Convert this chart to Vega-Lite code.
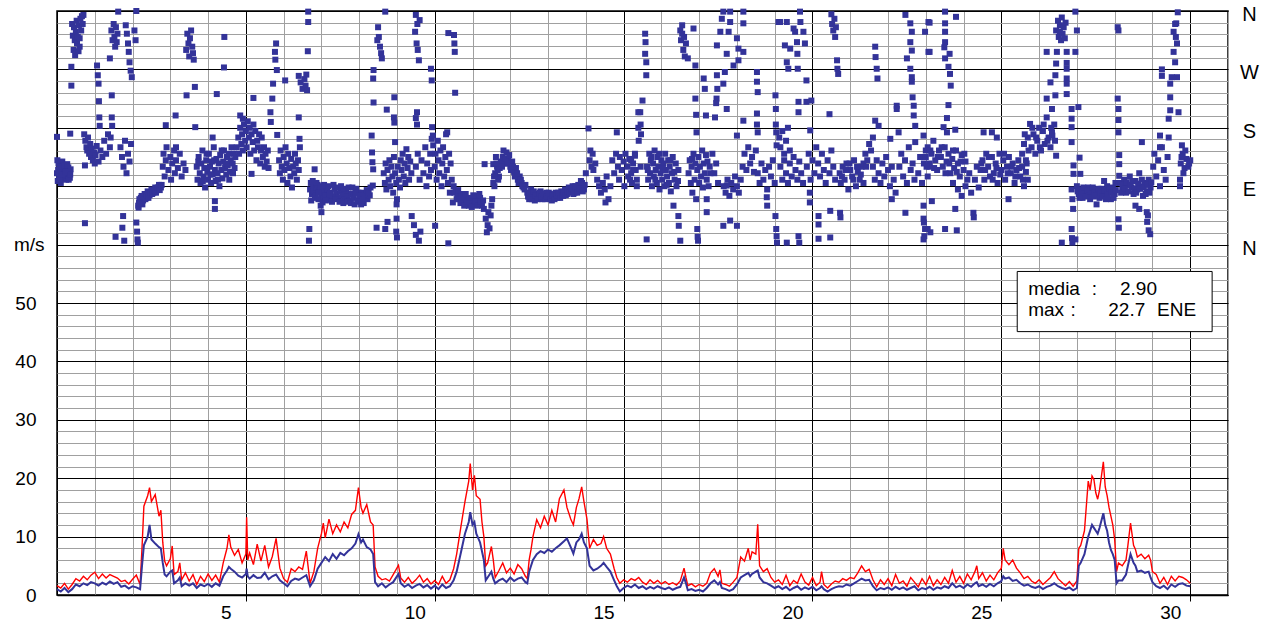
{
"$schema": "https://vega.github.io/schema/vega-lite/v6.json",
"width": 1171, "height": 584,
"autosize": "none",
"padding": {"left": 57, "top": 11, "right": 37, "bottom": 30},
"background": "white",
"config": {"font": "Liberation Sans", "view": {"stroke": "black", "strokeWidth": 1.5}, "axis": {"labelFont": "Liberation Sans", "labelColor": "black", "labelFontSize": 19}},
"datasets": {
"wind": [
{"t":0,"v":1.0,"g":1.6},{"t":0.1,"v":0.6,"g":1.2},{"t":0.2,"v":1.2,"g":2.0},{"t":0.3,"v":0.5,"g":1.0},{"t":0.4,"v":1.0,"g":1.8},{"t":0.5,"v":1.8,"g":2.8},{"t":0.6,"v":1.5,"g":2.4},{"t":0.7,"v":2.0,"g":3.2},{"t":0.8,"v":1.7,"g":2.6},{"t":0.9,"v":2.2,"g":3.4},
{"t":1.0,"v":2.0,"g":3.9},{"t":1.1,"v":1.6,"g":2.8},{"t":1.2,"v":2.1,"g":3.6},{"t":1.3,"v":1.8,"g":2.9},{"t":1.4,"v":2.3,"g":3.5},{"t":1.5,"v":1.9,"g":3.2},{"t":1.6,"v":2.2,"g":2.9},{"t":1.7,"v":1.4,"g":2.3},{"t":1.8,"v":1.6,"g":2.5},{"t":1.9,"v":1.1,"g":1.9},
{"t":2.0,"v":1.5,"g":2.7},{"t":2.1,"v":1.3,"g":3.4},{"t":2.2,"v":1.0,"g":1.8},{"t":2.25,"v":5.0,"g":8.0},{"t":2.3,"v":8.5,"g":15.2},{"t":2.4,"v":10.0,"g":17.0},{"t":2.45,"v":12.0,"g":18.4},{"t":2.5,"v":9.5,"g":16.0},{"t":2.6,"v":8.8,"g":17.2},{"t":2.7,"v":8.2,"g":13.5},{"t":2.75,"v":8.0,"g":14.5},{"t":2.8,"v":5.5,"g":9.0},{"t":2.85,"v":3.5,"g":5.8},{"t":2.9,"v":3.2,"g":5.0},
{"t":3.0,"v":4.0,"g":6.2},{"t":3.05,"v":4.2,"g":8.4},{"t":3.1,"v":2.0,"g":3.5},{"t":3.2,"v":2.5,"g":4.0},{"t":3.25,"v":3.0,"g":5.5},{"t":3.3,"v":1.5,"g":2.6},{"t":3.4,"v":2.0,"g":3.8},{"t":3.5,"v":1.6,"g":2.4},{"t":3.6,"v":2.0,"g":3.5},{"t":3.7,"v":1.2,"g":1.8},{"t":3.8,"v":1.8,"g":3.2},{"t":3.9,"v":1.5,"g":2.3},
{"t":4.0,"v":1.9,"g":3.6},{"t":4.1,"v":1.4,"g":2.5},{"t":4.2,"v":2.0,"g":3.4},{"t":4.3,"v":1.6,"g":2.2},{"t":4.4,"v":3.2,"g":5.5},{"t":4.5,"v":4.2,"g":8.0},{"t":4.55,"v":4.8,"g":10.3},{"t":4.6,"v":4.5,"g":8.2},{"t":4.7,"v":4.0,"g":6.8},{"t":4.8,"v":3.3,"g":7.8},{"t":4.9,"v":3.0,"g":5.5},
{"t":5.0,"v":3.6,"g":7.0},{"t":5.02,"v":4.5,"g":13.3},{"t":5.05,"v":3.2,"g":6.0},{"t":5.1,"v":2.8,"g":7.2},{"t":5.2,"v":3.4,"g":5.2},{"t":5.3,"v":2.9,"g":8.7},{"t":5.4,"v":3.0,"g":5.8},{"t":5.5,"v":3.8,"g":8.5},{"t":5.6,"v":2.7,"g":4.8},{"t":5.7,"v":3.2,"g":6.6},{"t":5.8,"v":3.5,"g":9.7},{"t":5.9,"v":2.5,"g":4.6},
{"t":6.0,"v":2.0,"g":2.8},{"t":6.1,"v":1.5,"g":2.2},{"t":6.2,"v":2.4,"g":4.5},{"t":6.3,"v":2.8,"g":4.0},{"t":6.4,"v":2.6,"g":4.8},{"t":6.5,"v":3.0,"g":4.4},{"t":6.6,"v":3.4,"g":7.5},{"t":6.7,"v":1.5,"g":2.0},{"t":6.8,"v":2.5,"g":4.0},{"t":6.9,"v":4.5,"g":8.0},
{"t":7.0,"v":5.5,"g":10.5},{"t":7.05,"v":6.0,"g":12.3},{"t":7.1,"v":6.5,"g":9.8},{"t":7.2,"v":5.8,"g":13.0},{"t":7.3,"v":7.0,"g":10.5},{"t":7.4,"v":6.2,"g":12.0},{"t":7.5,"v":7.2,"g":10.8},{"t":7.6,"v":6.8,"g":12.5},{"t":7.7,"v":7.5,"g":11.5},{"t":7.8,"v":8.0,"g":13.8},{"t":7.9,"v":8.8,"g":14.5},{"t":7.98,"v":10.4,"g":18.4},
{"t":8.05,"v":9.0,"g":15.0},{"t":8.1,"v":9.5,"g":14.0},{"t":8.2,"v":8.2,"g":15.5},{"t":8.3,"v":7.8,"g":12.5},{"t":8.37,"v":7.0,"g":12.0},{"t":8.42,"v":2.2,"g":4.8},{"t":8.5,"v":1.5,"g":3.2},{"t":8.6,"v":2.0,"g":2.6},{"t":8.7,"v":1.3,"g":2.8},{"t":8.8,"v":1.8,"g":2.4},{"t":8.9,"v":2.2,"g":3.5},
{"t":9.04,"v":3.6,"g":5.1},{"t":9.1,"v":2.0,"g":2.9},{"t":9.2,"v":1.4,"g":2.2},{"t":9.3,"v":1.8,"g":3.0},{"t":9.4,"v":1.2,"g":2.0},{"t":9.5,"v":1.6,"g":2.6},{"t":9.6,"v":1.9,"g":3.4},{"t":9.7,"v":1.3,"g":2.2},{"t":9.8,"v":1.7,"g":2.8},{"t":9.9,"v":1.1,"g":1.9},
{"t":10.0,"v":1.6,"g":2.5},{"t":10.1,"v":1.0,"g":1.8},{"t":10.2,"v":1.8,"g":3.2},{"t":10.3,"v":1.2,"g":2.0},{"t":10.4,"v":1.5,"g":2.6},{"t":10.5,"v":2.5,"g":4.5},{"t":10.58,"v":4.0,"g":7.0},{"t":10.7,"v":7.5,"g":12.0},{"t":10.8,"v":10.5,"g":16.0},{"t":10.9,"v":12.5,"g":19.5},{"t":10.94,"v":14.2,"g":22.5},
{"t":11.0,"v":12.0,"g":18.0},{"t":11.05,"v":12.5,"g":20.5},{"t":11.1,"v":10.5,"g":17.0},{"t":11.2,"v":9.0,"g":16.4},{"t":11.25,"v":7.5,"g":12.5},{"t":11.3,"v":6.0,"g":10.0},{"t":11.35,"v":2.5,"g":5.0},{"t":11.4,"v":3.0,"g":5.5},{"t":11.5,"v":4.0,"g":8.3},{"t":11.55,"v":2.8,"g":6.0},{"t":11.6,"v":2.0,"g":3.0},{"t":11.7,"v":2.5,"g":4.2},{"t":11.8,"v":2.8,"g":5.5},{"t":11.9,"v":2.2,"g":3.8},
{"t":12.0,"v":3.0,"g":4.6},{"t":12.1,"v":2.4,"g":3.6},{"t":12.2,"v":2.8,"g":5.2},{"t":12.3,"v":3.0,"g":4.5},{"t":12.4,"v":2.2,"g":3.2},{"t":12.45,"v":2.0,"g":2.8},{"t":12.5,"v":4.0,"g":6.0},{"t":12.55,"v":5.0,"g":7.8},{"t":12.6,"v":6.0,"g":10.0},{"t":12.7,"v":7.0,"g":12.9},{"t":12.8,"v":7.5,"g":11.5},{"t":12.9,"v":7.2,"g":13.5},
{"t":13.0,"v":7.8,"g":12.0},{"t":13.1,"v":7.4,"g":14.5},{"t":13.2,"v":8.0,"g":12.5},{"t":13.3,"v":8.5,"g":16.5},{"t":13.42,"v":9.2,"g":18.0},{"t":13.5,"v":9.7,"g":15.0},{"t":13.6,"v":8.2,"g":13.0},{"t":13.67,"v":7.1,"g":12.0},{"t":13.75,"v":9.0,"g":15.0},{"t":13.82,"v":9.5,"g":16.5},{"t":13.89,"v":10.5,"g":18.5},{"t":13.95,"v":9.0,"g":16.0},
{"t":14.03,"v":8.0,"g":13.0},{"t":14.1,"v":5.0,"g":8.0},{"t":14.2,"v":4.2,"g":9.5},{"t":14.3,"v":4.5,"g":8.5},{"t":14.4,"v":5.0,"g":8.8},{"t":14.47,"v":5.5,"g":10.0},{"t":14.55,"v":4.8,"g":8.0},{"t":14.65,"v":4.0,"g":7.0},{"t":14.75,"v":2.5,"g":4.5},{"t":14.82,"v":1.5,"g":3.0},{"t":14.9,"v":0.6,"g":2.0},
{"t":15.0,"v":1.2,"g":2.6},{"t":15.1,"v":1.6,"g":2.2},{"t":15.2,"v":1.3,"g":2.8},{"t":15.3,"v":1.8,"g":2.5},{"t":15.4,"v":1.2,"g":3.0},{"t":15.5,"v":1.5,"g":2.2},{"t":15.6,"v":1.0,"g":1.8},{"t":15.7,"v":1.4,"g":2.6},{"t":15.8,"v":1.1,"g":2.0},{"t":15.9,"v":1.5,"g":2.5},
{"t":16.0,"v":1.2,"g":1.9},{"t":16.1,"v":1.0,"g":2.3},{"t":16.2,"v":1.3,"g":1.8},{"t":16.3,"v":0.9,"g":2.1},{"t":16.4,"v":1.2,"g":1.7},{"t":16.5,"v":1.4,"g":2.4},{"t":16.6,"v":3.0,"g":4.6},{"t":16.65,"v":2.0,"g":3.0},{"t":16.7,"v":0.8,"g":1.6},{"t":16.8,"v":1.0,"g":1.9},{"t":16.9,"v":0.7,"g":1.4},
{"t":17.0,"v":0.9,"g":1.8},{"t":17.1,"v":0.6,"g":1.5},{"t":17.2,"v":1.2,"g":2.0},{"t":17.3,"v":2.0,"g":3.8},{"t":17.4,"v":2.5,"g":4.5},{"t":17.5,"v":1.8,"g":3.2},{"t":17.55,"v":2.2,"g":4.3},{"t":17.6,"v":1.2,"g":2.0},{"t":17.7,"v":1.0,"g":1.8},{"t":17.8,"v":0.7,"g":1.5},{"t":17.9,"v":1.0,"g":2.2},
{"t":18.0,"v":1.8,"g":3.0},{"t":18.1,"v":3.0,"g":6.5},{"t":18.2,"v":3.4,"g":5.8},{"t":18.3,"v":3.8,"g":8.0},{"t":18.35,"v":3.2,"g":6.0},{"t":18.4,"v":3.6,"g":7.4},{"t":18.5,"v":4.0,"g":7.0},{"t":18.55,"v":4.2,"g":12.1},{"t":18.6,"v":3.0,"g":5.0},{"t":18.7,"v":2.2,"g":4.0},{"t":18.8,"v":2.0,"g":4.5},{"t":18.9,"v":1.6,"g":3.0},
{"t":19.0,"v":1.2,"g":2.2},{"t":19.1,"v":1.5,"g":2.6},{"t":19.2,"v":1.0,"g":1.8},{"t":19.3,"v":1.4,"g":3.4},{"t":19.4,"v":0.8,"g":1.6},{"t":19.5,"v":1.2,"g":2.5},{"t":19.6,"v":1.5,"g":2.0},{"t":19.7,"v":0.9,"g":3.6},{"t":19.8,"v":1.3,"g":2.2},{"t":19.9,"v":1.0,"g":1.7},
{"t":20.0,"v":1.4,"g":3.0},{"t":20.1,"v":0.8,"g":1.6},{"t":20.2,"v":1.2,"g":2.2},{"t":20.24,"v":1.5,"g":4.0},{"t":20.3,"v":1.0,"g":1.8},{"t":20.4,"v":0.6,"g":1.2},{"t":20.5,"v":1.0,"g":1.9},{"t":20.6,"v":1.3,"g":2.4},{"t":20.7,"v":1.5,"g":2.2},{"t":20.8,"v":1.4,"g":2.8},{"t":20.9,"v":1.8,"g":2.5},
{"t":21.0,"v":1.6,"g":3.0},{"t":21.1,"v":2.0,"g":2.8},{"t":21.2,"v":2.4,"g":3.8},{"t":21.3,"v":2.8,"g":5.0},{"t":21.4,"v":2.5,"g":4.0},{"t":21.5,"v":2.6,"g":4.4},{"t":21.6,"v":1.5,"g":2.6},{"t":21.7,"v":0.8,"g":1.4},{"t":21.8,"v":1.2,"g":2.6},{"t":21.9,"v":1.0,"g":1.8},
{"t":22.0,"v":1.3,"g":2.8},{"t":22.1,"v":0.9,"g":1.6},{"t":22.2,"v":1.4,"g":3.5},{"t":22.3,"v":1.0,"g":2.0},{"t":22.4,"v":1.3,"g":2.4},{"t":22.5,"v":0.9,"g":1.5},{"t":22.6,"v":1.2,"g":3.0},{"t":22.7,"v":1.5,"g":2.2},{"t":22.8,"v":0.8,"g":1.4},{"t":22.9,"v":1.2,"g":2.8},
{"t":23.0,"v":1.0,"g":1.8},{"t":23.1,"v":1.4,"g":3.2},{"t":23.2,"v":0.9,"g":1.6},{"t":23.3,"v":1.3,"g":2.6},{"t":23.4,"v":1.1,"g":1.8},{"t":23.5,"v":1.5,"g":3.0},{"t":23.6,"v":1.2,"g":2.0},{"t":23.7,"v":2.0,"g":4.2},{"t":23.8,"v":1.3,"g":2.2},{"t":23.9,"v":1.6,"g":3.2},
{"t":24.0,"v":1.2,"g":2.0},{"t":24.1,"v":1.8,"g":3.6},{"t":24.2,"v":1.4,"g":2.6},{"t":24.3,"v":2.0,"g":4.0},{"t":24.35,"v":2.2,"g":5.0},{"t":24.4,"v":1.5,"g":2.8},{"t":24.5,"v":1.8,"g":3.8},{"t":24.6,"v":1.4,"g":2.4},{"t":24.7,"v":1.9,"g":3.4},{"t":24.8,"v":1.5,"g":2.6},{"t":24.9,"v":2.0,"g":3.8},
{"t":25.0,"v":2.4,"g":4.6},{"t":25.05,"v":3.2,"g":8.0},{"t":25.1,"v":2.8,"g":6.0},{"t":25.2,"v":3.0,"g":5.2},{"t":25.3,"v":2.4,"g":6.0},{"t":25.4,"v":2.6,"g":4.6},{"t":25.5,"v":2.0,"g":3.8},{"t":25.6,"v":1.6,"g":2.8},{"t":25.7,"v":1.8,"g":3.2},{"t":25.8,"v":1.4,"g":2.4},{"t":25.9,"v":1.2,"g":2.0},
{"t":26.0,"v":1.5,"g":2.6},{"t":26.1,"v":1.0,"g":1.8},{"t":26.2,"v":1.4,"g":2.4},{"t":26.3,"v":1.6,"g":3.0},{"t":26.4,"v":2.0,"g":4.0},{"t":26.5,"v":1.5,"g":2.8},{"t":26.6,"v":1.2,"g":2.2},{"t":26.7,"v":1.0,"g":1.6},{"t":26.8,"v":1.3,"g":2.3},{"t":26.9,"v":0.8,"g":1.5},
{"t":27.0,"v":1.2,"g":2.4},{"t":27.05,"v":5.0,"g":8.0},{"t":27.1,"v":5.5,"g":8.5},{"t":27.2,"v":7.0,"g":11.0},{"t":27.3,"v":10.0,"g":19.5},{"t":27.35,"v":11.0,"g":18.0},{"t":27.4,"v":12.0,"g":20.4},{"t":27.45,"v":11.5,"g":19.8},{"t":27.5,"v":11.0,"g":17.5},{"t":27.55,"v":10.5,"g":16.4},{"t":27.6,"v":11.5,"g":18.0},{"t":27.7,"v":14.0,"g":22.8},{"t":27.75,"v":12.0,"g":18.5},{"t":27.8,"v":11.0,"g":17.0},{"t":27.85,"v":9.0,"g":15.0},{"t":27.9,"v":7.7,"g":13.5},{"t":27.95,"v":7.0,"g":12.0},
{"t":28.0,"v":6.0,"g":9.5},{"t":28.05,"v":2.0,"g":4.0},{"t":28.1,"v":2.5,"g":5.5},{"t":28.2,"v":2.5,"g":5.0},{"t":28.3,"v":3.5,"g":6.0},{"t":28.35,"v":5.0,"g":8.5},{"t":28.42,"v":7.0,"g":12.3},{"t":28.5,"v":5.5,"g":8.5},{"t":28.55,"v":5.0,"g":7.8},{"t":28.6,"v":4.0,"g":6.5},{"t":28.7,"v":4.2,"g":7.0},{"t":28.8,"v":3.8,"g":6.2},{"t":28.9,"v":4.0,"g":6.8},{"t":28.95,"v":3.0,"g":6.0},
{"t":29.0,"v":2.2,"g":4.0},{"t":29.1,"v":1.5,"g":3.5},{"t":29.2,"v":1.2,"g":2.0},{"t":29.3,"v":1.6,"g":3.0},{"t":29.4,"v":1.0,"g":1.8},{"t":29.5,"v":1.8,"g":3.2},{"t":29.6,"v":1.4,"g":2.4},{"t":29.7,"v":1.9,"g":3.2},{"t":29.8,"v":2.0,"g":3.0},{"t":29.9,"v":1.6,"g":2.6},{"t":30.0,"v":1.5,"g":2.0}
],
"dir": [
{"t":0.0,"d":110},{"t":0.02,"d":98},{"t":0.04,"d":125},{"t":0.06,"d":104},{"t":0.08,"d":118},{"t":0.1,"d":95},{"t":0.12,"d":112},{"t":0.14,"d":128},{"t":0.16,"d":102},{"t":0.18,"d":115},{"t":0.2,"d":108},{"t":0.22,"d":120},{"t":0.24,"d":100},{"t":0.26,"d":114},{"t":0.28,"d":106},{"t":0.3,"d":119},{"t":0.32,"d":110},{"t":0.34,"d":103},{"t":0.36,"d":116},{"t":0.0,"d":166},{"t":0.35,"d":171},{"t":0.01,"d":130},
{"t":0.03,"d":115},{"t":0.07,"d":100},{"t":0.11,"d":120},{"t":0.15,"d":108},{"t":0.19,"d":122},{"t":0.23,"d":112},{"t":0.27,"d":124},{"t":0.31,"d":100},{"t":0.35,"d":108},
{"t":0.38,"d":274},{"t":0.38,"d":245},{"t":0.4,"d":340},{"t":0.42,"d":322},{"t":0.44,"d":300},{"t":0.45,"d":335},{"t":0.47,"d":315},{"t":0.48,"d":292},{"t":0.5,"d":328},{"t":0.52,"d":345},{"t":0.53,"d":310},{"t":0.55,"d":320},{"t":0.57,"d":298},{"t":0.58,"d":338},{"t":0.6,"d":318},{"t":0.62,"d":348},{"t":0.64,"d":330},{"t":0.66,"d":352},{"t":0.68,"d":340},{"t":0.7,"d":354},{"t":0.6,"d":305},
{"t":0.72,"d":170},{"t":0.75,"d":160},{"t":0.78,"d":150},{"t":0.8,"d":145},{"t":0.82,"d":165},{"t":0.85,"d":140},{"t":0.88,"d":155},{"t":0.9,"d":135},{"t":0.92,"d":148},{"t":0.95,"d":130},{"t":0.98,"d":142},{"t":1.0,"d":125},{"t":1.02,"d":138},{"t":1.05,"d":152},{"t":1.1,"d":128},{"t":1.15,"d":145},{"t":1.2,"d":135},{"t":1.25,"d":160},{"t":1.3,"d":140},{"t":1.35,"d":170},{"t":1.4,"d":150},{"t":1.42,"d":165},{"t":0.74,"d":33},{"t":0.74,"d":122},
{"t":1.06,"d":276},{"t":1.08,"d":261},{"t":1.1,"d":248},{"t":1.11,"d":221},{"t":1.12,"d":196},{"t":1.13,"d":183},
{"t":1.4,"d":287},{"t":1.44,"d":330},{"t":1.47,"d":315},{"t":1.5,"d":340},{"t":1.52,"d":320},{"t":1.54,"d":305},{"t":1.56,"d":335},{"t":1.58,"d":312},{"t":1.6,"d":325},{"t":1.62,"d":359},{"t":1.45,"d":230},{"t":1.45,"d":196},{"t":1.46,"d":183},
{"t":1.68,"d":150},{"t":1.72,"d":135},{"t":1.76,"d":120},{"t":1.8,"d":160},{"t":1.84,"d":110},{"t":1.88,"d":140},{"t":1.92,"d":128},{"t":1.96,"d":155},{"t":1.75,"d":44},{"t":1.73,"d":26},{"t":1.55,"d":12},{"t":1.78,"d":6},
{"t":1.82,"d":338},{"t":1.85,"d":325},{"t":1.88,"d":310},{"t":1.9,"d":297},{"t":1.92,"d":281},{"t":1.95,"d":268},{"t":1.98,"d":258},{"t":2.1,"d":360},{"t":2.05,"d":330},{"t":2.08,"d":315},
{"t":2.1,"d":34},{"t":2.12,"d":20},{"t":2.13,"d":8},{"t":2.14,"d":3},
{"t":2.15,"d":60},{"t":2.18,"d":70},{"t":2.2,"d":65},{"t":2.24,"d":75},{"t":2.28,"d":68},{"t":2.32,"d":78},{"t":2.36,"d":72},{"t":2.4,"d":82},{"t":2.45,"d":76},{"t":2.5,"d":85},{"t":2.55,"d":80},{"t":2.6,"d":88},{"t":2.65,"d":84},{"t":2.7,"d":92},{"t":2.75,"d":88},{"t":2.16,"d":57},
{"t":2.17,"d":64},{"t":2.22,"d":72},{"t":2.26,"d":62},{"t":2.3,"d":74},{"t":2.34,"d":70},{"t":2.38,"d":76},{"t":2.42,"d":72},{"t":2.47,"d":80},{"t":2.52,"d":78},{"t":2.57,"d":84},{"t":2.62,"d":80},{"t":2.67,"d":88},{"t":2.72,"d":84},{"t":2.77,"d":92},
{"t":2.8,"d":120},{"t":2.82,"d":140},{"t":2.85,"d":105},{"t":2.88,"d":130},{"t":2.9,"d":150},{"t":2.95,"d":115},{"t":3.0,"d":135},{"t":3.02,"d":100},{"t":3.05,"d":125},{"t":3.1,"d":145},{"t":3.12,"d":110},{"t":3.15,"d":130},{"t":3.2,"d":118},{"t":3.25,"d":140},{"t":3.3,"d":105},{"t":3.35,"d":125},{"t":3.4,"d":115},{"t":2.88,"d":184},{"t":3.14,"d":199},{"t":3.15,"d":150},
{"t":3.42,"d":300},{"t":3.45,"d":325},{"t":3.48,"d":310},{"t":3.5,"d":290},{"t":3.52,"d":318},{"t":3.55,"d":330},{"t":3.58,"d":305},{"t":3.6,"d":295},{"t":3.62,"d":285},{"t":3.43,"d":230},{"t":3.65,"d":243},{"t":3.66,"d":181},
{"t":3.7,"d":120},{"t":3.72,"d":100},{"t":3.75,"d":135},{"t":3.78,"d":110},{"t":3.8,"d":95},{"t":3.82,"d":125},{"t":3.85,"d":145},{"t":3.88,"d":105},{"t":3.9,"d":118},{"t":3.92,"d":88},{"t":3.95,"d":130},{"t":3.98,"d":112},{"t":4.0,"d":100},{"t":4.02,"d":140},{"t":4.05,"d":120},{"t":4.08,"d":95},{"t":4.1,"d":128},{"t":4.12,"d":108},{"t":4.15,"d":150},{"t":4.18,"d":115},{"t":4.2,"d":98},{"t":4.22,"d":132},{"t":4.25,"d":110},{"t":4.28,"d":125},{"t":4.3,"d":90},{"t":4.32,"d":138},{"t":4.35,"d":115},{"t":4.38,"d":102},{"t":4.4,"d":128},{"t":4.42,"d":145},{"t":4.45,"d":118},{"t":4.48,"d":108},{"t":4.5,"d":135},{"t":4.52,"d":122},{"t":4.55,"d":140},{"t":4.58,"d":112},{"t":4.6,"d":130},{"t":4.62,"d":150},{"t":4.65,"d":125},{"t":4.68,"d":140},{"t":4.7,"d":118},{"t":4.72,"d":135},
{"t":3.74,"d":128},{"t":3.86,"d":98},{"t":3.96,"d":140},{"t":4.06,"d":108},{"t":4.16,"d":130},{"t":4.26,"d":100},{"t":4.36,"d":145},{"t":4.46,"d":125},{"t":4.56,"d":100},{"t":4.66,"d":110},
{"t":4.18,"d":67},{"t":4.18,"d":55},{"t":4.12,"d":165},{"t":4.23,"d":232},{"t":4.43,"d":320},{"t":4.42,"d":273},
{"t":4.76,"d":150},{"t":4.8,"d":165},{"t":4.82,"d":140},{"t":4.85,"d":180},{"t":4.88,"d":155},{"t":4.9,"d":170},{"t":4.92,"d":145},{"t":4.95,"d":185},{"t":4.98,"d":160},{"t":5.0,"d":175},{"t":5.02,"d":150},{"t":5.05,"d":190},{"t":5.08,"d":165},{"t":5.1,"d":180},{"t":5.12,"d":140},{"t":5.15,"d":170},{"t":5.18,"d":158},{"t":5.2,"d":185},{"t":5.22,"d":145},{"t":5.25,"d":175},{"t":5.28,"d":130},{"t":5.3,"d":160},{"t":5.32,"d":150},{"t":5.35,"d":170},{"t":5.38,"d":125},{"t":5.4,"d":145},{"t":5.42,"d":165},{"t":5.45,"d":135},{"t":5.48,"d":150},{"t":5.5,"d":120},{"t":5.52,"d":140},{"t":5.55,"d":128},{"t":5.58,"d":145},{"t":5.6,"d":118},{"t":4.85,"d":199},{"t":4.92,"d":194},{"t":5.2,"d":226},{"t":5.15,"d":109},
{"t":5.77,"d":297},{"t":5.82,"d":269},{"t":5.72,"d":248},{"t":5.7,"d":225},{"t":5.65,"d":204},{"t":5.66,"d":189},{"t":5.83,"d":169},{"t":5.78,"d":285},{"t":5.8,"d":310},{"t":6.04,"d":253},
{"t":5.88,"d":130},{"t":5.9,"d":110},{"t":5.92,"d":145},{"t":5.95,"d":120},{"t":5.98,"d":100},{"t":6.0,"d":135},{"t":6.02,"d":115},{"t":6.05,"d":150},{"t":6.08,"d":125},{"t":6.1,"d":95},{"t":6.12,"d":140},{"t":6.15,"d":118},{"t":6.18,"d":105},{"t":6.2,"d":132},{"t":6.22,"d":88},{"t":6.25,"d":120},{"t":6.28,"d":110},{"t":6.3,"d":140},{"t":6.32,"d":125},{"t":6.35,"d":100},{"t":6.38,"d":130},{"t":6.4,"d":115},{"t":6.43,"d":150},{"t":6.42,"d":163},
{"t":6.4,"d":260},{"t":6.45,"d":250},{"t":6.5,"d":240},{"t":6.55,"d":255},{"t":6.58,"d":245},{"t":6.6,"d":262},{"t":6.62,"d":238},{"t":6.4,"d":196},{"t":6.65,"d":359},{"t":6.65,"d":343},{"t":6.64,"d":298},{"t":6.68,"d":24},{"t":6.67,"d":6},
{"t":6.7,"d":85},{"t":6.72,"d":95},{"t":6.75,"d":78},{"t":6.78,"d":90},{"t":6.8,"d":82},{"t":6.82,"d":116},{"t":6.85,"d":75},{"t":6.88,"d":88},{"t":6.9,"d":92},{"t":6.92,"d":70},{"t":6.95,"d":84},{"t":6.98,"d":60},{"t":7.0,"d":78},{"t":7.0,"d":50},{"t":7.02,"d":88},{"t":7.05,"d":72},{"t":7.08,"d":82},{"t":7.1,"d":76},{"t":7.15,"d":85},{"t":7.2,"d":70},{"t":7.25,"d":80},{"t":7.3,"d":74},{"t":7.35,"d":86},{"t":7.4,"d":78},{"t":7.45,"d":72},{"t":7.5,"d":82},{"t":7.55,"d":76},{"t":7.6,"d":70},{"t":7.65,"d":80},{"t":7.7,"d":74},{"t":7.75,"d":68},
{"t":6.73,"d":68},{"t":6.77,"d":98},{"t":6.83,"d":72},{"t":6.87,"d":95},{"t":6.93,"d":80},{"t":6.97,"d":90},{"t":7.03,"d":65},{"t":7.07,"d":92},{"t":7.12,"d":68},{"t":7.18,"d":90},{"t":7.22,"d":78},{"t":7.28,"d":66},{"t":7.32,"d":92},{"t":7.38,"d":70},{"t":7.42,"d":88},{"t":7.48,"d":66},{"t":7.52,"d":90},{"t":7.58,"d":64},{"t":7.62,"d":86},{"t":7.68,"d":66},{"t":7.72,"d":88},{"t":7.78,"d":64},{"t":7.82,"d":88},{"t":7.88,"d":62},{"t":7.92,"d":86},{"t":7.98,"d":80},{"t":8.02,"d":66},{"t":8.08,"d":80},{"t":8.12,"d":64},{"t":8.18,"d":72},{"t":8.22,"d":70},{"t":8.28,"d":76},
{"t":7.8,"d":78},{"t":7.85,"d":72},{"t":7.9,"d":80},{"t":7.95,"d":68},{"t":8.0,"d":75},{"t":8.05,"d":62},{"t":8.1,"d":70},{"t":8.15,"d":78},{"t":8.2,"d":84},{"t":8.25,"d":80},{"t":8.3,"d":88},
{"t":8.34,"d":142},{"t":8.35,"d":127},{"t":8.37,"d":116},{"t":8.36,"d":91},{"t":8.33,"d":168},{"t":8.5,"d":335},{"t":8.52,"d":320},{"t":8.55,"d":305},{"t":8.58,"d":295},{"t":8.6,"d":287},{"t":8.48,"d":315},{"t":8.38,"d":269},{"t":8.37,"d":256},{"t":8.38,"d":219},{"t":8.69,"d":359},{"t":8.73,"d":208},{"t":8.46,"d":26},{"t":8.69,"d":24},
{"t":8.65,"d":110},{"t":8.68,"d":95},{"t":8.7,"d":125},{"t":8.72,"d":85},{"t":8.75,"d":115},{"t":8.78,"d":100},{"t":8.8,"d":130},{"t":8.82,"d":90},{"t":8.85,"d":120},{"t":8.88,"d":105},{"t":8.9,"d":80},{"t":8.92,"d":135},{"t":8.95,"d":110},{"t":8.98,"d":95},{"t":9.0,"d":70},{"t":9.02,"d":120},{"t":9.05,"d":100},{"t":9.08,"d":88},{"t":9.1,"d":130},{"t":9.12,"d":115},{"t":9.15,"d":140},{"t":9.18,"d":105},{"t":9.2,"d":125},{"t":9.22,"d":95},{"t":9.25,"d":147},{"t":9.28,"d":118},{"t":9.3,"d":135},{"t":9.32,"d":100},{"t":9.35,"d":128},{"t":9.38,"d":110},
{"t":8.93,"d":227},{"t":8.92,"d":196},{"t":8.93,"d":188},{"t":8.95,"d":158},{"t":8.99,"d":62},{"t":8.99,"d":40},{"t":8.98,"d":20},{"t":9.0,"d":11},{"t":8.75,"d":35},
{"t":9.5,"d":354},{"t":9.6,"d":346},{"t":9.48,"d":328},{"t":9.52,"d":310},{"t":9.58,"d":284},{"t":9.54,"d":340},{"t":9.55,"d":300},{"t":9.53,"d":204},{"t":9.53,"d":185},{"t":9.5,"d":195},
{"t":9.39,"d":44},{"t":9.45,"d":30},{"t":9.5,"d":15},{"t":9.58,"d":6},{"t":9.62,"d":20},
{"t":9.5,"d":120},{"t":9.55,"d":140},{"t":9.6,"d":100},{"t":9.65,"d":130},{"t":9.7,"d":110},{"t":9.75,"d":150},{"t":9.78,"d":90},{"t":9.8,"d":125},{"t":9.85,"d":105},{"t":9.88,"d":140},{"t":9.9,"d":115},{"t":9.92,"d":163},
{"t":9.9,"d":271},{"t":9.92,"d":253},{"t":9.93,"d":181},{"t":9.95,"d":168},{"t":9.96,"d":153},
{"t":10.0,"d":120},{"t":10.02,"d":140},{"t":10.05,"d":100},{"t":10.08,"d":160},{"t":10.1,"d":130},{"t":10.12,"d":110},{"t":10.15,"d":145},{"t":10.18,"d":90},{"t":10.2,"d":125},{"t":10.22,"d":150},{"t":10.25,"d":105},{"t":10.28,"d":135},{"t":10.3,"d":170},{"t":10.32,"d":115},{"t":10.35,"d":95},{"t":10.38,"d":140},{"t":10.4,"d":80},{"t":10.42,"d":125},{"t":10.45,"d":100},{"t":10.48,"d":65},{"t":10.33,"d":173},{"t":10.36,"d":326},{"t":10.51,"d":323},{"t":10.52,"d":310},{"t":10.53,"d":297},{"t":10.54,"d":234},{"t":10.01,"d":29},{"t":10.36,"d":2},
{"t":10.5,"d":90},{"t":10.55,"d":82},{"t":10.6,"d":76},{"t":10.65,"d":70},{"t":10.7,"d":78},{"t":10.75,"d":66},{"t":10.8,"d":72},{"t":10.85,"d":68},{"t":10.9,"d":60},{"t":10.95,"d":65},{"t":11.0,"d":70},{"t":11.05,"d":62},{"t":11.1,"d":75},{"t":11.15,"d":68},{"t":11.2,"d":72},{"t":11.25,"d":60},{"t":11.3,"d":55},{"t":11.32,"d":124},{"t":11.35,"d":40},{"t":11.38,"d":19},{"t":11.4,"d":30},{"t":11.42,"d":50},{"t":11.45,"d":25},{"t":11.48,"d":45},{"t":11.52,"d":70},{"t":11.55,"d":124},{"t":11.5,"d":60},
{"t":10.52,"d":80},{"t":10.58,"d":70},{"t":10.62,"d":84},{"t":10.68,"d":64},{"t":10.72,"d":72},{"t":10.78,"d":60},{"t":10.82,"d":78},{"t":10.88,"d":66},{"t":10.92,"d":72},{"t":10.98,"d":58},{"t":11.02,"d":76},{"t":11.08,"d":66},{"t":11.12,"d":60},{"t":11.18,"d":78},{"t":11.22,"d":66},{"t":11.28,"d":68},
{"t":11.55,"d":95},{"t":11.6,"d":110},{"t":11.65,"d":120},{"t":11.7,"d":105},{"t":11.75,"d":128},{"t":11.8,"d":135},{"t":11.85,"d":125},{"t":11.9,"d":142},{"t":11.95,"d":130},{"t":12.0,"d":120},{"t":12.05,"d":128},{"t":12.1,"d":112},{"t":12.15,"d":118},{"t":12.2,"d":100},{"t":12.25,"d":105},{"t":12.3,"d":95},{"t":12.35,"d":88},{"t":12.4,"d":92},{"t":11.58,"d":90},{"t":11.62,"d":135},{"t":11.68,"d":100},
{"t":11.57,"d":105},{"t":11.63,"d":125},{"t":11.67,"d":115},{"t":11.72,"d":118},{"t":11.78,"d":120},{"t":11.82,"d":145},{"t":11.88,"d":132},{"t":11.92,"d":125},{"t":11.97,"d":138},{"t":12.02,"d":115},{"t":12.07,"d":120},{"t":12.12,"d":105},{"t":12.18,"d":110},{"t":12.22,"d":95},{"t":12.28,"d":100},{"t":12.32,"d":90},{"t":12.38,"d":85},
{"t":12.45,"d":80},{"t":12.5,"d":70},{"t":12.55,"d":85},{"t":12.6,"d":75},{"t":12.65,"d":68},{"t":12.7,"d":78},{"t":12.75,"d":72},{"t":12.8,"d":82},{"t":12.85,"d":70},{"t":12.9,"d":76},{"t":12.95,"d":80},{"t":13.0,"d":72},{"t":13.05,"d":78},{"t":13.1,"d":68},{"t":13.15,"d":75},{"t":13.2,"d":80},{"t":13.25,"d":72},{"t":13.3,"d":78},{"t":13.35,"d":82},{"t":13.4,"d":75},{"t":13.45,"d":85},{"t":13.5,"d":78},{"t":13.55,"d":88},{"t":13.6,"d":82},{"t":13.65,"d":90},{"t":13.7,"d":80},{"t":13.75,"d":85},{"t":13.8,"d":92},{"t":13.85,"d":88},{"t":13.9,"d":95},{"t":13.95,"d":85},{"t":14.0,"d":110},
{"t":12.47,"d":74},{"t":12.52,"d":78},{"t":12.57,"d":70},{"t":12.62,"d":82},{"t":12.67,"d":76},{"t":12.72,"d":70},{"t":12.77,"d":80},{"t":12.82,"d":74},{"t":12.87,"d":78},{"t":12.92,"d":70},{"t":12.97,"d":74},{"t":13.02,"d":80},{"t":13.07,"d":70},{"t":13.12,"d":76},{"t":13.17,"d":70},{"t":13.22,"d":76},{"t":13.27,"d":80},{"t":13.32,"d":72},{"t":13.37,"d":76},{"t":13.42,"d":80},{"t":13.47,"d":76},{"t":13.52,"d":82},{"t":13.57,"d":80},{"t":13.62,"d":86},{"t":13.67,"d":78},{"t":13.72,"d":90},{"t":13.77,"d":80},{"t":13.82,"d":86},{"t":13.87,"d":98},{"t":13.92,"d":82},{"t":13.97,"d":92},
{"t":14.07,"d":179},{"t":14.1,"d":130},{"t":14.12,"d":145},{"t":14.15,"d":120},{"t":14.18,"d":140},{"t":14.2,"d":115},{"t":14.25,"d":125},
{"t":14.3,"d":100},{"t":14.35,"d":90},{"t":14.4,"d":80},{"t":14.45,"d":95},{"t":14.5,"d":85},{"t":14.55,"d":105},{"t":14.6,"d":70},{"t":14.65,"d":90},{"t":14.52,"d":65},
{"t":14.82,"d":173},{"t":14.7,"d":130},{"t":14.75,"d":110},{"t":14.8,"d":140},{"t":14.85,"d":120},{"t":14.88,"d":100},{"t":14.9,"d":135},{"t":14.95,"d":115},{"t":15.0,"d":128},{"t":15.02,"d":90},{"t":15.05,"d":140},{"t":15.1,"d":120},{"t":15.12,"d":105},{"t":15.15,"d":132},{"t":15.2,"d":110},{"t":15.22,"d":95},{"t":15.25,"d":125},{"t":15.3,"d":140},{"t":15.32,"d":115},{"t":15.35,"d":100},{"t":15.39,"d":204},{"t":15.39,"d":180},{"t":15.4,"d":160},
{"t":15.57,"d":325},{"t":15.58,"d":312},{"t":15.57,"d":294},{"t":15.6,"d":281},{"t":15.6,"d":261},{"t":15.5,"d":222},{"t":15.44,"d":204},{"t":15.45,"d":185},{"t":15.46,"d":170},{"t":15.61,"d":8},
{"t":15.62,"d":120},{"t":15.65,"d":100},{"t":15.68,"d":140},{"t":15.7,"d":110},{"t":15.72,"d":130},{"t":15.75,"d":90},{"t":15.78,"d":125},{"t":15.8,"d":105},{"t":15.82,"d":145},{"t":15.85,"d":115},{"t":15.88,"d":95},{"t":15.9,"d":135},{"t":15.92,"d":120},{"t":15.95,"d":85},{"t":15.98,"d":110},{"t":16.0,"d":130},{"t":16.02,"d":100},{"t":16.05,"d":125},{"t":16.08,"d":90},{"t":16.1,"d":140},{"t":16.12,"d":115},{"t":16.15,"d":105},{"t":16.18,"d":130},{"t":16.2,"d":95},{"t":16.22,"d":120},{"t":16.25,"d":82},{"t":16.28,"d":110},{"t":16.3,"d":135},{"t":16.35,"d":100},{"t":16.38,"d":125},{"t":16.4,"d":90},{"t":16.45,"d":115},{"t":15.17,"d":100},{"t":15.2,"d":130},{"t":15.25,"d":115},{"t":15.3,"d":137},{"t":15.35,"d":90},{"t":15.45,"d":120},
{"t":15.64,"d":115},{"t":15.74,"d":135},{"t":15.84,"d":100},{"t":15.94,"d":140},{"t":16.04,"d":118},{"t":16.14,"d":92},{"t":16.24,"d":130},{"t":16.34,"d":112},{"t":16.44,"d":98},
{"t":16.32,"d":60},{"t":16.45,"d":44},{"t":16.46,"d":29},{"t":16.5,"d":6},
{"t":16.5,"d":330},{"t":16.52,"d":315},{"t":16.55,"d":338},{"t":16.58,"d":300},{"t":16.6,"d":320},{"t":16.62,"d":290},{"t":16.65,"d":310},{"t":16.7,"d":287},{"t":16.55,"d":325},{"t":16.85,"d":333},{"t":16.9,"d":276},{"t":16.81,"d":132},
{"t":16.72,"d":110},{"t":16.75,"d":130},{"t":16.78,"d":95},{"t":16.8,"d":120},{"t":16.82,"d":80},{"t":16.85,"d":140},{"t":16.88,"d":100},{"t":16.9,"d":125},{"t":16.92,"d":70},{"t":16.95,"d":115},{"t":16.98,"d":135},{"t":17.0,"d":95},{"t":17.02,"d":120},{"t":17.05,"d":105},{"t":17.08,"d":145},{"t":17.1,"d":88},{"t":17.12,"d":125},{"t":17.15,"d":110},{"t":17.18,"d":138},{"t":17.2,"d":100},{"t":17.22,"d":128},{"t":17.25,"d":90},{"t":17.28,"d":120},{"t":17.3,"d":110},
{"t":16.9,"d":225},{"t":16.92,"d":200},{"t":16.93,"d":173},{"t":16.95,"d":24},{"t":16.96,"d":12},{"t":16.97,"d":6},{"t":17.12,"d":256},{"t":17.15,"d":240},{"t":17.18,"d":199},{"t":17.2,"d":70},{"t":17.2,"d":50},
{"t":17.47,"d":307},{"t":17.56,"d":328},{"t":17.6,"d":348},{"t":17.64,"d":359},{"t":17.73,"d":294},{"t":17.47,"d":261},{"t":17.48,"d":240},{"t":17.46,"d":225},{"t":17.45,"d":218},{"t":17.42,"d":196},{"t":17.64,"d":248},{"t":17.82,"d":359},{"t":17.82,"d":343},{"t":17.78,"d":328},{"t":18.0,"d":318},{"t":18.04,"d":302},{"t":18.04,"d":284},{"t":17.91,"d":276},{"t":17.68,"d":266},{"t":17.73,"d":209},{"t":18.0,"d":168},{"t":18.17,"d":359},{"t":18.17,"d":341},{"t":18.17,"d":297},{"t":18.17,"d":191},
{"t":17.35,"d":140},{"t":17.4,"d":110},{"t":17.45,"d":125},{"t":17.5,"d":95},
{"t":17.65,"d":90},{"t":17.7,"d":80},{"t":17.75,"d":100},{"t":17.8,"d":75},{"t":17.85,"d":95},{"t":17.9,"d":85},{"t":17.95,"d":105},{"t":18.0,"d":90},{"t":18.05,"d":80},{"t":18.1,"d":100},{"t":17.64,"d":29},{"t":17.82,"d":37},{"t":18.0,"d":29},{"t":17.73,"d":91},
{"t":18.15,"d":120},{"t":18.2,"d":140},{"t":18.25,"d":115},{"t":18.3,"d":150},{"t":18.35,"d":125},{"t":18.4,"d":135},{"t":18.45,"d":112},{"t":18.5,"d":145},
{"t":18.53,"d":266},{"t":18.53,"d":251},{"t":18.55,"d":235},{"t":18.53,"d":202},{"t":18.53,"d":185},{"t":18.55,"d":173},
{"t":18.55,"d":110},{"t":18.6,"d":95},{"t":18.65,"d":125},{"t":18.7,"d":100},{"t":18.75,"d":115},{"t":18.8,"d":85},{"t":18.85,"d":120},{"t":18.9,"d":105},{"t":18.95,"d":130},{"t":19.0,"d":95},{"t":18.79,"d":73},{"t":18.8,"d":60},
{"t":19.02,"d":44},{"t":19.04,"d":24},{"t":19.05,"d":13},{"t":19.06,"d":3},{"t":19.1,"d":343},{"t":19.02,"d":230},{"t":19.03,"d":209},{"t":19.03,"d":185},{"t":19.04,"d":173},{"t":19.05,"d":153},
{"t":19.12,"d":165},{"t":19.15,"d":150},{"t":19.2,"d":175},{"t":19.25,"d":140},{"t":19.3,"d":160},{"t":19.35,"d":180},{"t":19.4,"d":145},
{"t":19.15,"d":120},{"t":19.2,"d":100},{"t":19.25,"d":130},{"t":19.3,"d":110},{"t":19.35,"d":95},{"t":19.4,"d":125},{"t":19.45,"d":105},{"t":19.5,"d":135},{"t":19.55,"d":115},{"t":19.6,"d":100},{"t":19.65,"d":128},{"t":19.7,"d":110},{"t":19.75,"d":95},
{"t":19.27,"d":307},{"t":19.32,"d":281},{"t":19.36,"d":271},{"t":19.41,"d":302},{"t":19.5,"d":333},{"t":19.54,"d":328},{"t":19.59,"d":312},{"t":19.6,"d":294},{"t":19.61,"d":271},{"t":19.67,"d":359},{"t":19.68,"d":343},{"t":19.76,"d":328},{"t":19.8,"d":310},{"t":19.84,"d":253},{"t":19.63,"d":220},{"t":19.63,"d":204},{"t":19.84,"d":220},{"t":19.97,"d":222},{"t":19.32,"d":343},{"t":19.14,"d":343},
{"t":19.63,"d":13},{"t":19.65,"d":3},{"t":19.32,"d":3},
{"t":19.85,"d":120},{"t":19.9,"d":140},{"t":19.95,"d":100},{"t":20.0,"d":130},{"t":20.05,"d":110},{"t":20.1,"d":150},{"t":19.94,"d":176},{"t":19.93,"d":80},{"t":19.93,"d":65},
{"t":20.16,"d":44},{"t":20.16,"d":31},{"t":20.16,"d":9},{"t":20.47,"d":11},{"t":20.47,"d":52},
{"t":20.15,"d":125},{"t":20.2,"d":105},{"t":20.25,"d":140},{"t":20.3,"d":115},{"t":20.35,"d":95},{"t":20.4,"d":130},{"t":20.45,"d":110},{"t":20.5,"d":145},{"t":20.55,"d":120},{"t":20.6,"d":100},
{"t":20.5,"d":355},{"t":20.52,"d":340},{"t":20.55,"d":330},{"t":20.58,"d":348},{"t":20.6,"d":320},{"t":20.62,"d":335},{"t":20.65,"d":284},{"t":20.66,"d":271},{"t":20.68,"d":263},{"t":20.45,"d":201},
{"t":20.73,"d":49},{"t":20.74,"d":42},
{"t":20.72,"d":110},{"t":20.75,"d":95},{"t":20.8,"d":120},{"t":20.85,"d":100},{"t":20.9,"d":125},{"t":20.95,"d":85},{"t":21.0,"d":115},{"t":21.05,"d":105},{"t":21.1,"d":130},{"t":21.15,"d":90},{"t":21.2,"d":112},{"t":21.25,"d":100},{"t":21.3,"d":120},{"t":21.35,"d":95},
{"t":20.78,"d":105},{"t":20.88,"d":115},{"t":20.98,"d":125},{"t":21.08,"d":100},{"t":21.18,"d":120},{"t":21.28,"d":108},
{"t":21.35,"d":125},{"t":21.4,"d":140},{"t":21.45,"d":130},{"t":21.5,"d":155},{"t":21.55,"d":145},{"t":21.6,"d":165},{"t":21.42,"d":120},
{"t":21.66,"d":305},{"t":21.67,"d":289},{"t":21.7,"d":271},{"t":21.72,"d":256},{"t":21.66,"d":191},{"t":21.75,"d":183},
{"t":21.6,"d":120},{"t":21.65,"d":100},{"t":21.7,"d":130},{"t":21.75,"d":110},{"t":21.8,"d":95},{"t":21.85,"d":125},{"t":21.9,"d":105},{"t":21.95,"d":135},{"t":22.0,"d":115},{"t":22.05,"d":90},{"t":22.1,"d":120},{"t":22.15,"d":100},{"t":22.2,"d":80},
{"t":22.1,"d":70},{"t":22.06,"d":163},{"t":22.28,"d":173},{"t":22.23,"d":214},{"t":22.23,"d":209},{"t":22.46,"d":49},
{"t":22.46,"d":354},{"t":22.59,"d":341},{"t":22.63,"d":328},{"t":22.59,"d":312},{"t":22.63,"d":299},{"t":22.5,"d":287},{"t":22.59,"d":271},{"t":22.63,"d":258},{"t":22.63,"d":251},{"t":22.65,"d":227},{"t":22.68,"d":214},{"t":22.68,"d":199},{"t":22.72,"d":183},{"t":22.72,"d":158},
{"t":22.3,"d":120},{"t":22.35,"d":140},{"t":22.4,"d":105},{"t":22.45,"d":130},{"t":22.5,"d":95},{"t":22.55,"d":150},{"t":22.6,"d":115},{"t":22.65,"d":125},{"t":22.7,"d":100},
{"t":22.8,"d":110},{"t":22.85,"d":135},{"t":22.9,"d":95},{"t":22.95,"d":125},{"t":23.0,"d":145},{"t":23.05,"d":105},{"t":23.1,"d":120},
{"t":22.94,"d":60},{"t":22.94,"d":40},{"t":22.94,"d":8},{"t":22.98,"d":24},{"t":22.98,"d":328},{"t":23.07,"d":343},{"t":23.07,"d":297},
{"t":22.94,"d":168},{"t":23.1,"d":342},{"t":23.1,"d":297},{"t":22.95,"d":34},{"t":22.96,"d":13},{"t":23.05,"d":24},{"t":23.12,"d":19},{"t":23.16,"d":67},
{"t":23.51,"d":359},{"t":23.8,"d":351},{"t":23.51,"d":341},{"t":23.51,"d":328},{"t":23.51,"d":312},{"t":23.49,"d":304},{"t":23.63,"d":294},{"t":23.51,"d":287},{"t":23.6,"d":274},{"t":23.64,"d":263},{"t":23.66,"d":245},{"t":23.6,"d":215},{"t":23.56,"d":195},{"t":23.47,"d":181},{"t":23.56,"d":173},{"t":23.78,"d":177},{"t":23.51,"d":24},{"t":23.82,"d":22},
{"t":23.0,"d":135},{"t":23.05,"d":150},{"t":23.1,"d":125},{"t":23.15,"d":140},{"t":23.2,"d":160},{"t":23.25,"d":130},{"t":23.3,"d":115},{"t":23.35,"d":145},{"t":23.4,"d":135},{"t":23.45,"d":120},{"t":23.5,"d":150},{"t":23.55,"d":128},{"t":23.6,"d":140},{"t":23.65,"d":110},{"t":23.7,"d":132},{"t":23.75,"d":118},{"t":23.8,"d":145},{"t":23.85,"d":125},{"t":23.9,"d":105},{"t":23.95,"d":138},{"t":24.0,"d":115},{"t":24.05,"d":128},{"t":24.1,"d":100},
{"t":23.02,"d":120},{"t":23.12,"d":145},{"t":23.22,"d":118},{"t":23.32,"d":135},{"t":23.42,"d":150},{"t":23.52,"d":110},{"t":23.62,"d":125},{"t":23.72,"d":145},{"t":23.82,"d":112},{"t":23.92,"d":128},{"t":24.02,"d":140},
{"t":23.72,"d":95},{"t":23.78,"d":55},{"t":23.85,"d":85},{"t":23.95,"d":75},{"t":24.05,"d":90},{"t":24.15,"d":110},{"t":24.2,"d":80},{"t":24.26,"d":49},{"t":24.27,"d":42},{"t":24.3,"d":100},{"t":24.35,"d":120},{"t":24.4,"d":88},
{"t":24.45,"d":115},{"t":24.5,"d":130},{"t":24.53,"d":173},{"t":24.55,"d":100},{"t":24.6,"d":140},{"t":24.65,"d":120},{"t":24.7,"d":105},{"t":24.75,"d":173},{"t":24.75,"d":135},{"t":24.8,"d":110},{"t":24.85,"d":125},{"t":24.88,"d":165},{"t":24.9,"d":95},{"t":24.95,"d":140},{"t":25.0,"d":115},{"t":25.05,"d":130},{"t":25.1,"d":100},{"t":25.15,"d":120},{"t":25.19,"d":70},{"t":25.2,"d":135},{"t":25.25,"d":110},{"t":25.3,"d":125},{"t":25.35,"d":95},{"t":25.4,"d":115},{"t":25.45,"d":130},{"t":25.5,"d":105},{"t":25.55,"d":120},{"t":25.6,"d":90},{"t":25.65,"d":112},{"t":25.7,"d":100},
{"t":24.47,"d":125},{"t":24.57,"d":115},{"t":24.67,"d":135},{"t":24.77,"d":100},{"t":24.87,"d":118},{"t":24.97,"d":108},{"t":25.07,"d":140},{"t":25.17,"d":110},{"t":25.27,"d":120},{"t":25.37,"d":105},{"t":25.47,"d":118},{"t":25.57,"d":100},{"t":25.67,"d":125},
{"t":25.55,"d":140},{"t":25.6,"d":155},{"t":25.65,"d":130},{"t":25.7,"d":165},{"t":25.76,"d":186},{"t":25.8,"d":150},{"t":25.85,"d":170},{"t":25.9,"d":140},{"t":25.95,"d":160},{"t":26.0,"d":180},{"t":26.05,"d":145},{"t":26.1,"d":175},{"t":26.15,"d":155},{"t":26.2,"d":196},{"t":26.25,"d":165},{"t":26.3,"d":150},{"t":26.34,"d":173},{"t":26.35,"d":168},{"t":26.4,"d":185},{"t":26.45,"d":137},
{"t":25.62,"d":170},{"t":25.72,"d":145},{"t":25.82,"d":180},{"t":25.92,"d":165},{"t":26.02,"d":150},{"t":26.12,"d":185},{"t":26.22,"d":160},{"t":26.32,"d":180},{"t":26.42,"d":160},
{"t":26.2,"d":225},{"t":26.34,"d":209},{"t":26.43,"d":230},{"t":26.43,"d":261},{"t":26.45,"d":279},{"t":26.47,"d":297},{"t":26.2,"d":297},{"t":26.3,"d":250},
{"t":26.45,"d":330},{"t":26.5,"d":345},{"t":26.52,"d":320},{"t":26.55,"d":338},{"t":26.58,"d":315},{"t":26.6,"d":350},{"t":26.62,"d":325},{"t":26.65,"d":335},{"t":26.68,"d":318},{"t":26.7,"d":342},{"t":26.55,"d":328},
{"t":26.73,"d":297},{"t":26.73,"d":280},{"t":26.73,"d":271},{"t":26.73,"d":256},{"t":26.73,"d":248},{"t":26.73,"d":232},{"t":26.96,"d":359},{"t":27.0,"d":330},{"t":26.96,"d":297},{"t":27.04,"d":212},
{"t":26.86,"d":209},{"t":26.86,"d":194},{"t":26.86,"d":181},{"t":26.86,"d":158},{"t":26.91,"d":122},{"t":27.07,"d":134},{"t":27.09,"d":109},{"t":26.91,"d":109},
{"t":26.86,"d":85},{"t":26.88,"d":70},{"t":26.9,"d":55},{"t":26.86,"d":24},{"t":26.87,"d":10},{"t":26.88,"d":3},{"t":26.6,"d":3},{"t":26.96,"d":8},
{"t":27.0,"d":90},{"t":27.05,"d":78},{"t":27.1,"d":85},{"t":27.15,"d":72},{"t":27.2,"d":82},{"t":27.25,"d":76},{"t":27.3,"d":88},{"t":27.35,"d":70},{"t":27.4,"d":80},{"t":27.45,"d":74},{"t":27.5,"d":84},{"t":27.55,"d":78},{"t":27.6,"d":72},{"t":27.65,"d":86},{"t":27.7,"d":80},{"t":27.75,"d":75},{"t":27.8,"d":90},{"t":27.85,"d":82},{"t":27.9,"d":70},{"t":27.95,"d":88},{"t":28.0,"d":78},{"t":28.02,"d":95},{"t":27.52,"d":62},{"t":27.72,"d":98},
{"t":27.02,"d":82},{"t":27.07,"d":72},{"t":27.12,"d":80},{"t":27.17,"d":88},{"t":27.22,"d":74},{"t":27.27,"d":84},{"t":27.32,"d":76},{"t":27.37,"d":82},{"t":27.42,"d":88},{"t":27.47,"d":80},{"t":27.52,"d":76},{"t":27.57,"d":86},{"t":27.62,"d":80},{"t":27.67,"d":74},{"t":27.72,"d":84},{"t":27.77,"d":70},{"t":27.82,"d":78},{"t":27.87,"d":86},{"t":27.92,"d":80},{"t":27.97,"d":72},{"t":28.03,"d":84},
{"t":28.08,"d":335},{"t":28.1,"d":330},{"t":28.08,"d":225},{"t":28.1,"d":209},{"t":28.1,"d":192},{"t":28.1,"d":173},{"t":28.12,"d":138},{"t":28.12,"d":124},{"t":28.12,"d":106},{"t":28.1,"d":39},{"t":28.11,"d":26},
{"t":28.15,"d":95},{"t":28.2,"d":85},{"t":28.25,"d":100},{"t":28.3,"d":80},{"t":28.35,"d":92},{"t":28.4,"d":105},{"t":28.45,"d":88},{"t":28.5,"d":78},{"t":28.55,"d":98},{"t":28.6,"d":85},{"t":28.65,"d":110},{"t":28.7,"d":90},{"t":28.75,"d":75},{"t":28.8,"d":95},{"t":28.85,"d":82},{"t":28.9,"d":100},{"t":28.95,"d":88},
{"t":28.17,"d":80},{"t":28.22,"d":92},{"t":28.27,"d":86},{"t":28.32,"d":96},{"t":28.37,"d":82},{"t":28.42,"d":92},{"t":28.47,"d":98},{"t":28.52,"d":86},{"t":28.57,"d":80},{"t":28.62,"d":94},{"t":28.67,"d":86},{"t":28.72,"d":100},{"t":28.77,"d":88},{"t":28.82,"d":78},{"t":28.87,"d":92},{"t":28.92,"d":80},{"t":28.97,"d":96},
{"t":28.55,"d":60},{"t":28.65,"d":55},{"t":28.72,"d":158},{"t":28.85,"d":50},{"t":28.86,"d":35},{"t":28.9,"d":22},{"t":28.94,"d":16},{"t":28.88,"d":45},
{"t":29.02,"d":120},{"t":29.05,"d":140},{"t":29.1,"d":105},{"t":29.15,"d":130},{"t":29.2,"d":90},{"t":29.25,"d":150},{"t":29.3,"d":115},{"t":29.35,"d":100},{"t":29.4,"d":135},
{"t":29.2,"d":168},{"t":29.2,"d":150},{"t":29.43,"d":165},{"t":29.43,"d":194},{"t":29.47,"d":207},{"t":29.47,"d":227},{"t":29.47,"d":248},{"t":29.51,"d":258},{"t":29.65,"d":258},{"t":29.25,"d":270},{"t":29.25,"d":260},{"t":29.6,"d":281},{"t":29.56,"d":297},{"t":29.65,"d":310},{"t":29.56,"d":328},{"t":29.63,"d":341},{"t":29.67,"d":358},{"t":29.6,"d":340},{"t":29.62,"d":320},{"t":29.69,"d":204},{"t":29.73,"d":90},{"t":29.73,"d":100},
{"t":29.75,"d":125},{"t":29.8,"d":140},{"t":29.85,"d":118},{"t":29.9,"d":132},{"t":29.95,"d":120},{"t":30.0,"d":130},{"t":29.78,"d":153},{"t":29.82,"d":110},{"t":29.77,"d":135},{"t":29.87,"d":145},{"t":29.97,"d":125}
]
},
"layer": [
{"data": {"name": "dir"},
 "mark": {"type": "square", "size": 36, "color": "#333399", "opacity": 1, "filled": true},
 "encoding": {
  "x": {"field": "t", "type": "quantitative", "scale": {"domain": [0, 31], "nice": false, "zero": false}, "axis": null},
  "y": {"field": "d", "type": "quantitative", "scale": {"domain": [-540, 360], "nice": false, "zero": false},
   "axis": {"orient": "right", "values": [0, 90, 180, 270, 360], "title": null, "grid": false, "ticks": false, "domain": false,
    "labelAlign": "center", "labelPadding": 21, "labelOffset": 3.5, "labelFontSize": 20, "labelOverlap": false, "labelFlush": false,
    "labelExpr": "datum.value === 0 || datum.value === 360 ? 'N' : (datum.value === 90 ? 'E' : (datum.value === 180 ? 'S' : 'W'))"}}
 }},
{
"layer": [
{"data": {"values": [{}]},
 "mark": {"type": "rect", "fill": "white", "stroke": "black", "strokeWidth": 1},
 "encoding": {
  "x": {"datum": 25.42, "type": "quantitative", "axis": null},
  "x2": {"datum": 30.58},
  "y": {"datum": 55.4, "type": "quantitative", "axis": null},
  "y2": {"datum": 45.1}}},
{"data": {"values": [{}]},
 "mark": {"type": "text", "text": "media", "align": "left", "baseline": "alphabetic", "fontSize": 19, "font": "Liberation Sans", "color": "black"},
 "encoding": {"x": {"datum": 25.71, "type": "quantitative", "axis": null}, "y": {"datum": 51.3, "type": "quantitative", "axis": null}}},
{"data": {"values": [{}]},
 "mark": {"type": "text", "text": ":", "align": "center", "baseline": "alphabetic", "fontSize": 19, "font": "Liberation Sans", "color": "black"},
 "encoding": {"x": {"datum": 27.46, "type": "quantitative", "axis": null}, "y": {"datum": 51.3, "type": "quantitative", "axis": null}}},
{"data": {"values": [{}]},
 "mark": {"type": "text", "text": "2.90", "align": "right", "baseline": "alphabetic", "fontSize": 19, "font": "Liberation Sans", "color": "black"},
 "encoding": {"x": {"datum": 29.12, "type": "quantitative", "axis": null}, "y": {"datum": 51.3, "type": "quantitative", "axis": null}}},
{"data": {"values": [{}]},
 "mark": {"type": "text", "text": "max", "align": "left", "baseline": "alphabetic", "fontSize": 19, "font": "Liberation Sans", "color": "black"},
 "encoding": {"x": {"datum": 25.71, "type": "quantitative", "axis": null}, "y": {"datum": 47.7, "type": "quantitative", "axis": null}}},
{"data": {"values": [{}]},
 "mark": {"type": "text", "text": ":", "align": "center", "baseline": "alphabetic", "fontSize": 19, "font": "Liberation Sans", "color": "black"},
 "encoding": {"x": {"datum": 26.9, "type": "quantitative", "axis": null}, "y": {"datum": 47.7, "type": "quantitative", "axis": null}}},
{"data": {"values": [{}]},
 "mark": {"type": "text", "text": "22.7", "align": "right", "baseline": "alphabetic", "fontSize": 19, "font": "Liberation Sans", "color": "black"},
 "encoding": {"x": {"datum": 28.81, "type": "quantitative", "axis": null}, "y": {"datum": 47.7, "type": "quantitative", "axis": null}}},
{"data": {"values": [{}]},
 "mark": {"type": "text", "text": "ENE", "align": "left", "baseline": "alphabetic", "fontSize": 19, "font": "Liberation Sans", "color": "black"},
 "encoding": {"x": {"datum": 29.12, "type": "quantitative", "axis": null}, "y": {"datum": 47.7, "type": "quantitative", "axis": null}}},
{"data": {"name": "wind"},
 "transform": [{"fold": ["g", "v"], "as": ["s", "w"]}],
 "mark": {"type": "line"},
 "encoding": {
  "x": {"field": "t", "type": "quantitative", "scale": {"domain": [0, 31], "nice": false, "zero": false},
   "axis": {"values": [0,1,2,3,4,5,6,7,8,9,10,11,12,13,14,15,16,17,18,19,20,21,22,23,24,25,26,27,28,29,30,31],
    "title": null, "grid": true,
    "gridColor": {"condition": {"test": "datum.value % 5 === 0", "value": "#000000"}, "value": "#a0a0a0"},
    "gridWidth": 1,
    "ticks": true, "tickSize": 6, "tickWidth": 1,
    "tickOpacity": {"condition": {"test": "datum.value % 5 === 0 && datum.value > 0 && datum.value < 31", "value": 1}, "value": 0},
    "tickColor": "#000000",
    "labelExpr": "datum.value % 5 === 0 && datum.value > 0 && datum.value < 31 ? datum.label : ''",
    "labelOffset": -20, "labelPadding": 2, "labelFlush": false, "labelOverlap": false,
    "domain": true, "domainColor": "#000000", "domainWidth": 1.5}},
  "y": {"field": "w", "type": "quantitative", "scale": {"domain": [0, 100], "nice": false, "zero": false},
   "axis": {"values": [0,2,4,6,8,10,12,14,16,18,20,22,24,26,28,30,32,34,36,38,40,42,44,46,48,50,52,54,56,58,60,62,64,66,68,70,72,74,76,78,80,82,84,86,88,90,92,94,96,98,100],
    "title": null, "grid": true,
    "gridColor": {"condition": {"test": "datum.value % 10 === 0", "value": "#000000"}, "value": "#a0a0a0"},
    "gridWidth": 1, "ticks": false, "domain": false,
    "labelPadding": {"condition": {"test": "datum.value === 60", "value": 13}, "value": 21},
    "labelExpr": "datum.value === 60 ? 'm/s' : (datum.value <= 50 && datum.value % 10 === 0 ? datum.label : '')",
    "labelOverlap": false, "labelFlush": false}},
  "color": {"field": "s", "type": "nominal", "scale": {"domain": ["g", "v"], "range": ["#ff0000", "#333399"]}, "legend": null},
  "strokeWidth": {"field": "s", "type": "nominal", "scale": {"domain": ["g", "v"], "range": [1.4, 2.0]}, "legend": null}
 }}
],
"resolve": {"axis": {"x": "independent", "y": "independent"}}
}
],
"resolve": {"scale": {"y": "independent"}, "axis": {"x": "independent", "y": "independent"}}
}
